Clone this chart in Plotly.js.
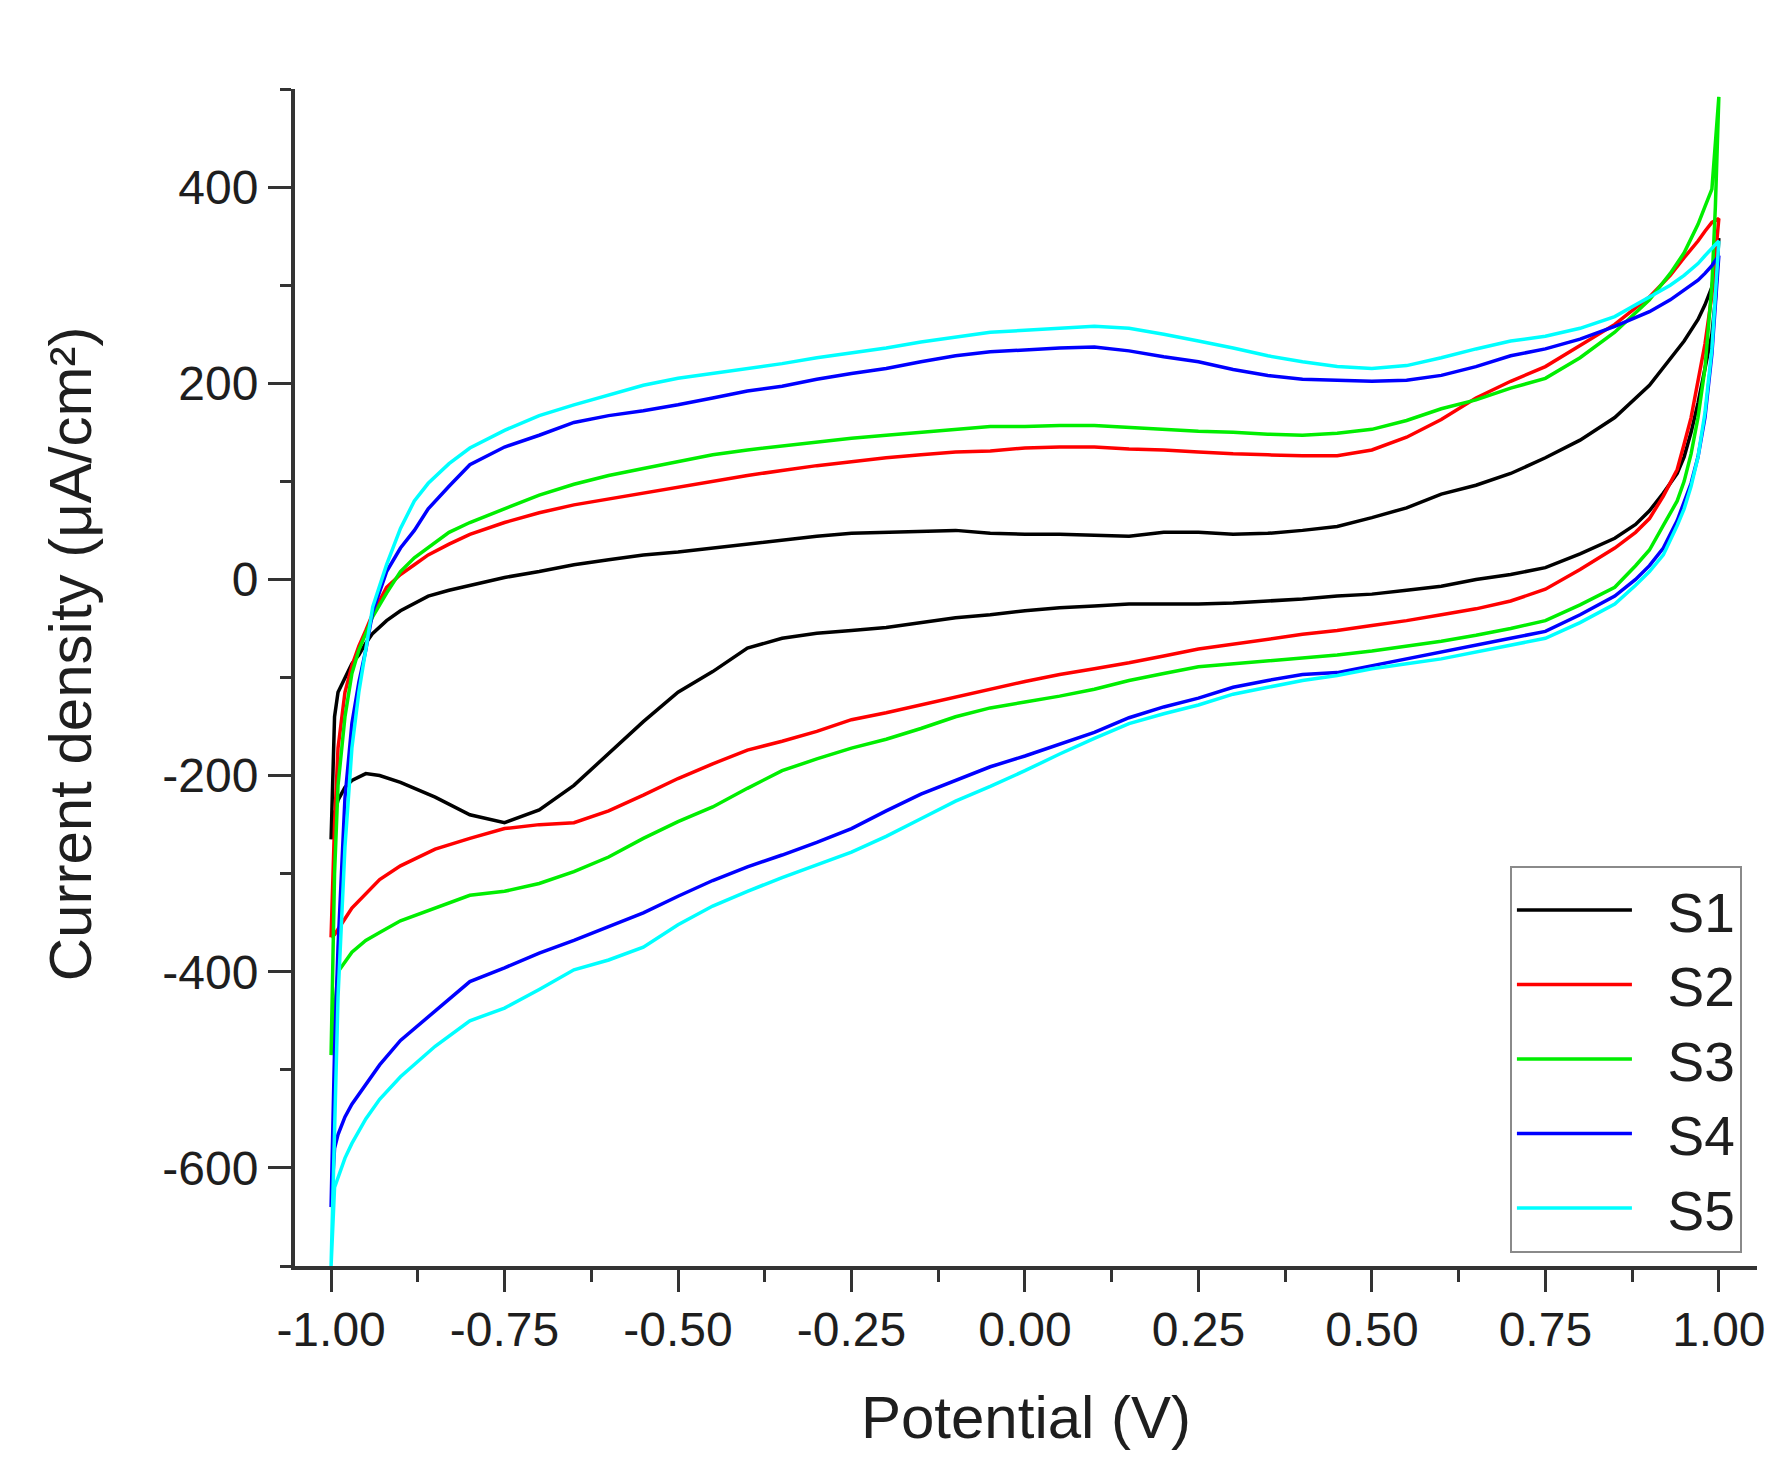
<!DOCTYPE html>
<html>
<head>
<meta charset="utf-8">
<script src="https://cdn.plot.ly/plotly-3.0.1.min.js"></script>
<style>
  html, body { margin: 0; padding: 0; background: #fff; }
  #chart { width: 1791px; height: 1481px; }
</style>
</head>
<body>
<div id="chart"></div>
<script>
// Cyclic voltammograms.
// Forward scan (-1 V -> 1 V) then reverse scan (1 V -> -1 V).

const fwdPotential = [-1.0, -0.995, -0.99, -0.98, -0.97, -0.96, -0.95, -0.94, -0.92, -0.9, -0.88, -0.86, -0.83, -0.8,
  -0.75, -0.7, -0.65, -0.6, -0.55, -0.5, -0.45, -0.4, -0.35, -0.3, -0.25, -0.2, -0.15, -0.1, -0.05, 0,
  0.05, 0.1, 0.15, 0.2, 0.25, 0.3, 0.35, 0.4, 0.45, 0.5, 0.55, 0.6, 0.65, 0.7, 0.75, 0.8, 0.85, 0.9,
  0.93, 0.95, 0.97, 0.98, 0.99, 1.0];

const revPotential = [1.0, 0.995, 0.99, 0.98, 0.97, 0.96, 0.95, 0.94, 0.92, 0.9, 0.88, 0.85, 0.8, 0.75,
  0.7, 0.65, 0.6, 0.55, 0.5, 0.45, 0.4, 0.35, 0.3, 0.25, 0.2, 0.15, 0.1, 0.05, 0, -0.05, -0.1, -0.15,
  -0.2, -0.25, -0.3, -0.35, -0.4, -0.45, -0.5, -0.55, -0.6, -0.65, -0.7, -0.75, -0.8, -0.85, -0.9,
  -0.93, -0.95, -0.97, -0.98, -0.99, -0.995, -1.0];

// current density, µA/cm²
const s1Fwd = [-265, -140, -115, -100, -86, -77, -65, -55, -42, -32, -24, -17, -11, -6,
  2, 8, 15, 20, 25, 28, 32, 36, 40, 44, 47, 48, 49, 50, 47, 46,
  46, 45, 44, 48, 48, 46, 47, 50, 54, 63, 73, 87, 96, 108, 124, 142, 165, 198,
  225, 243, 265, 280, 298, 348];
const s1Rev = [348, 285, 250, 215, 180, 150, 125, 108, 88, 70, 56, 42, 26, 12,
  5, 0, -7, -11, -15, -17, -20, -22, -24, -25, -25, -25, -27, -29, -32, -36, -39, -44,
  -49, -52, -55, -60, -70, -94, -115, -145, -178, -210, -235, -248, -240, -222, -207,
  -200, -198, -205, -212, -225, -240, -265];

const s2Fwd = [-365, -250, -172, -115, -88, -68, -52, -35, -8, 5, 15, 25, 36, 46,
  58, 68, 76, 82, 88, 94, 100, 106, 111, 116, 120, 124, 127, 130, 131, 134,
  135, 135, 133, 132, 130, 128, 127, 126, 126, 132, 145, 163, 185, 202, 217, 238, 260, 288,
  310, 328, 345, 355, 364, 368];
const s2Rev = [368, 330, 290, 240, 200, 165, 138, 112, 85, 62, 48, 32, 10, -10,
  -22, -30, -36, -42, -47, -52, -56, -61, -66, -71, -78, -85, -91, -97, -104, -112, -120, -128,
  -136, -143, -155, -165, -174, -188, -203, -220, -236, -248, -250, -254, -264, -275, -292,
  -306, -320, -335, -346, -357, -362, -365];

const s3Fwd = [-485, -300, -210, -140, -96, -72, -55, -38, -14, 8, 22, 32, 48, 58,
  72, 86, 97, 106, 113, 120, 127, 132, 136, 140, 144, 147, 150, 153, 156, 156,
  157, 157, 155, 153, 151, 150, 148, 147, 149, 153, 162, 174, 183, 195, 205, 226, 252, 285,
  312, 333, 362, 380, 398, 492];
const s3Rev = [492, 380, 300, 215, 165, 128, 100, 80, 55, 30, 14, -8, -26, -42,
  -50, -57, -63, -68, -73, -77, -80, -83, -86, -89, -96, -103, -112, -119, -125, -131, -140, -152,
  -163, -172, -183, -195, -213, -232, -247, -264, -283, -298, -310, -318, -322, -335, -348,
  -360, -368, -380, -390, -400, -440, -485];

const s4Fwd = [-640, -480, -375, -223, -147, -105, -72, -33, 8, 32, 50, 72, 95, 117,
  135, 147, 160, 167, 172, 178, 185, 192, 197, 204, 210, 215, 222, 228, 232, 234,
  236, 237, 233, 227, 222, 214, 208, 204, 203, 202, 203, 208, 217, 228, 235, 245, 258, 273,
  285, 295, 305, 312, 320, 330];
const s4Rev = [330, 280, 230, 165, 125, 98, 78, 60, 32, 14, 0, -17, -36, -53,
  -60, -67, -74, -81, -88, -95, -97, -103, -110, -121, -130, -141, -156, -168, -180, -191, -205, -219,
  -236, -254, -268, -281, -293, -307, -323, -340, -354, -368, -381, -396, -410, -440, -470,
  -495, -515, -535, -548, -566, -580, -640];

const s5Fwd = [-700, -560, -426, -273, -172, -115, -72, -28, 15, 52, 80, 98, 118, 134,
  152, 167, 178, 188, 198, 205, 210, 215, 220, 226, 231, 236, 242, 247, 252, 254,
  256, 258, 256, 250, 243, 236, 228, 222, 217, 215, 218, 226, 235, 243, 248, 256, 268, 288,
  300, 310, 322, 330, 338, 345];
const s5Rev = [345, 290, 235, 170, 125, 95, 72, 55, 25, 8, -6, -25, -44, -60,
  -67, -74, -81, -86, -91, -98, -103, -110, -117, -128, -137, -147, -162, -178, -195, -211, -226, -244,
  -262, -278, -291, -304, -318, -333, -352, -375, -388, -398, -418, -437, -450, -476, -507,
  -530, -550, -575, -590, -610, -620, -700];

const seriesNames  = ['S1', 'S2', 'S3', 'S4', 'S5'];
const seriesColors = ['#000000', '#ff0000', '#00ee00', '#0000ff', '#00ffff'];

const xTickVals = [-1.0, -0.75, -0.5, -0.25, 0, 0.25, 0.5, 0.75, 1.0];
const xTickText = ['-1.00', '-0.75', '-0.50', '-0.25', '0.00', '0.25', '0.50', '0.75', '1.00'];
const yTickVals = [-600, -400, -200, 0, 200, 400];
const yTickText = ['-600', '-400', '-200', '0', '200', '400'];

const FONT = 'Liberation Sans, Arial, sans-serif';
const INK  = '#1e1e1e';
const AXIS = '#333333';

const loops = [
  [s1Fwd, s1Rev], [s2Fwd, s2Rev], [s3Fwd, s3Rev], [s4Fwd, s4Rev], [s5Fwd, s5Rev],
];

const traces = loops.map(([fwd, rev], i) => ({
  x: fwdPotential.concat(revPotential),
  y: fwd.concat(rev),
  type: 'scatter',
  mode: 'lines',
  // nbsp pad opens the gap between the legend line and its label
  name: '\u00a0\u00a0' + seriesNames[i],
  line: { color: seriesColors[i], width: 3.5 },
}));

const layout = {
  width: 1791,
  height: 1481,
  paper_bgcolor: '#ffffff',
  plot_bgcolor:  '#ffffff',
  font: { family: FONT, size: 48, color: INK },
  margin: { l: 295, r: 34, t: 89, b: 215, pad: 0 },
  showlegend: true,
  legend: {
    x: 0.831, y: 0.34, xanchor: 'left', yanchor: 'top',
    bgcolor: '#ffffff',
    bordercolor: '#8a8a8a',
    borderwidth: 2,
    font: { family: FONT, size: 55, color: INK },
    itemwidth: 115,
    tracegroupgap: 0,
  },
  xaxis: {
    range: [-1.052, 1.055],
    showline: true, linecolor: AXIS, linewidth: 4,
    showgrid: false, zeroline: false,
    ticks: 'outside', ticklen: 22, tickwidth: 3, tickcolor: AXIS,
    tickmode: 'array', tickvals: xTickVals, ticktext: xTickText,
    tickfont: { family: FONT, size: 48, color: INK },
    ticklabelstandoff: -4,
    minor: { tickmode: 'linear', tick0: -1.125, dtick: 0.25, ticklen: 12, tickwidth: 3, tickcolor: AXIS, showgrid: false },
    title: { text: 'Potential (V)', font: { family: FONT, size: 60, color: INK }, standoff: 42 },
  },
  yaxis: {
    range: [-700, 500],
    showline: true, linecolor: AXIS, linewidth: 4,
    showgrid: false, zeroline: false,
    ticks: 'outside', ticklen: 23, tickwidth: 3, tickcolor: AXIS,
    tickmode: 'array', tickvals: yTickVals, ticktext: yTickText,
    tickfont: { family: FONT, size: 48, color: INK },
    minor: { tickmode: 'linear', tick0: -700, dtick: 200, ticklen: 11, tickwidth: 3, tickcolor: AXIS, showgrid: false },
  },
  annotations: [{
    // y title sits a little above the plot centre in the original
    text: 'Current density (μA/cm²)',
    xref: 'paper', yref: 'paper', x: -0.153, y: 0.52,
    xanchor: 'center', yanchor: 'middle',
    textangle: -90, showarrow: false,
    font: { family: FONT, size: 60, color: INK },
  }],
};

Plotly.newPlot('chart', traces, layout, { displayModeBar: false, staticPlot: true });
</script>
</body>
</html>
